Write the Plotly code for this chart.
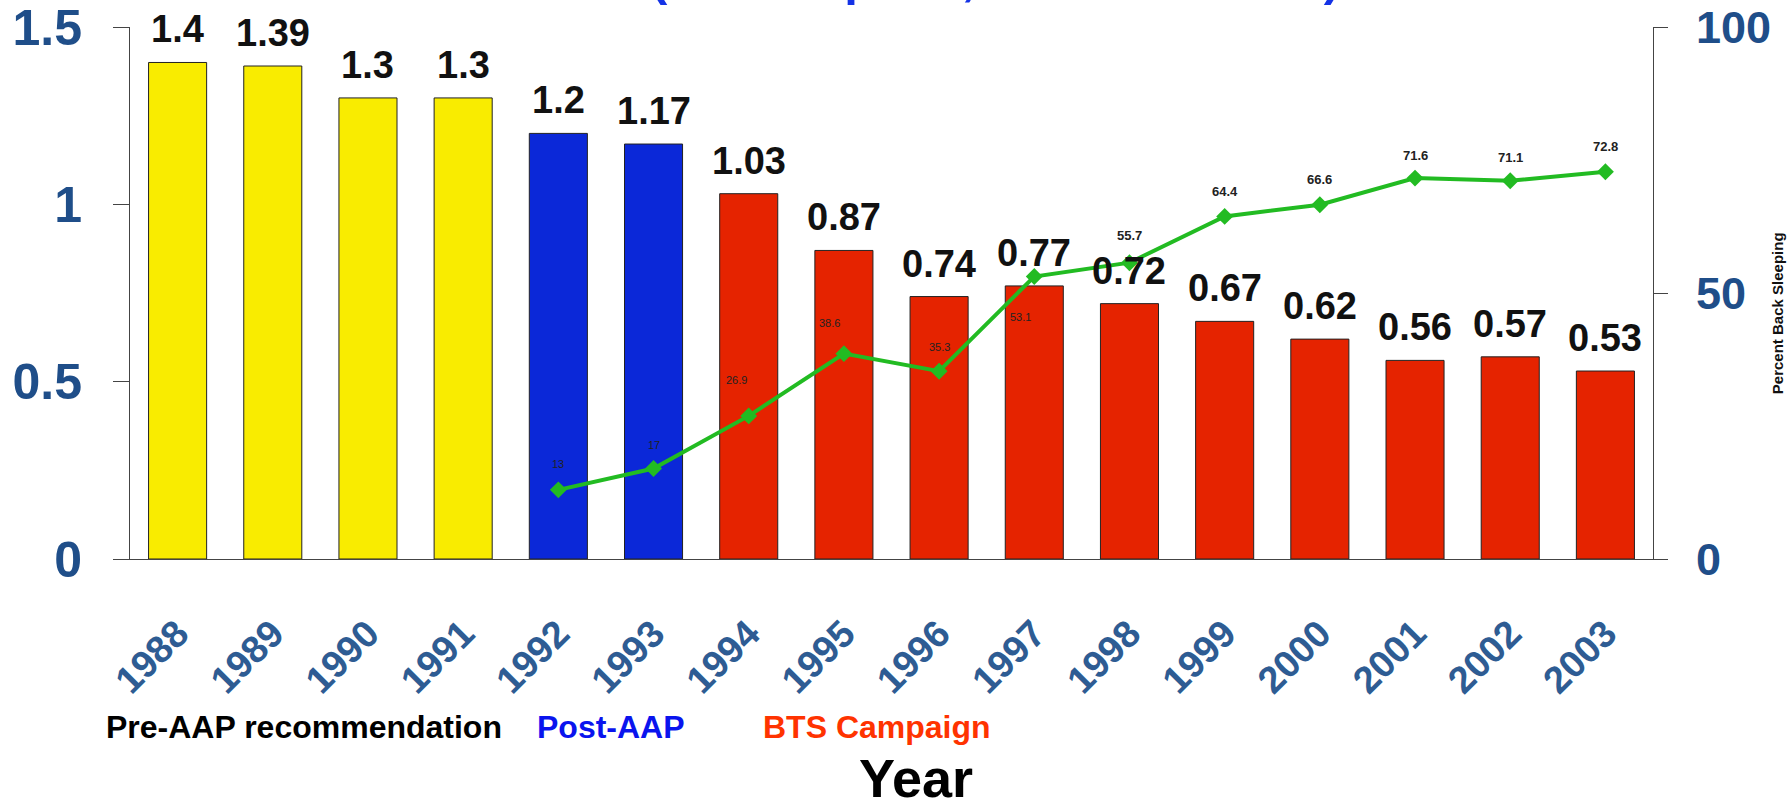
import plotly.graph_objects as go

# SIDS rate per 1,000 live births, by year
years = [str(y) for y in range(1988, 2004)]
sids_rate = [1.4, 1.39, 1.3, 1.3, 1.2, 1.17, 1.03, 0.87, 0.74, 0.77, 0.72, 0.67, 0.62, 0.56, 0.57, 0.53]
period = ["pre"] * 4 + ["post"] * 2 + ["bts"] * 10

# Percent of infants placed on their back to sleep
back_years = [str(y) for y in range(1992, 2004)]
back_pct = [13, 17, 26.9, 38.6, 35.3, 53.1, 55.7, 64.4, 66.6, 71.6, 71.1, 72.8]
back_labels = ["13", "17", "26.9", "38.6", "35.3", "53.1", "55.7", "64.4", "66.6", "71.6", "71.1", "72.8"]

period_colors = {"pre": "#f9ec00", "post": "#0b28d8", "bts": "#e52300"}
FONT = "Arial, 'Liberation Sans', sans-serif"
AXIS_BLUE = "#1f4e89"
LINE = "#444444"

# numeric slot for each year on the category-like x axis
xpos = list(range(len(years)))
back_x = [years.index(y) for y in back_years]
boundaries = [i - 0.5 for i in range(len(years) + 1)]

fig = go.Figure()

fig.add_trace(go.Bar(
    x=xpos, y=sids_rate,
    marker=dict(color=[period_colors[p] for p in period], line=dict(color="#222222", width=1)),
    width=0.61, showlegend=False,
    customdata=years, hovertemplate="%{customdata}: %{y}<extra></extra>",
))

fig.add_trace(go.Scatter(
    x=back_x, y=back_pct, yaxis="y2", mode="lines+markers",
    line=dict(color="#22bb22", width=4),
    marker=dict(symbol="diamond", size=13, color="#22bb22"),
    showlegend=False,
))

annotations = []
# value labels above the bars
for x, v in zip(xpos, sids_rate):
    annotations.append(dict(
        x=x, y=v, xref="x", yref="y", text=f"{v:g}", showarrow=False,
        yanchor="bottom", yshift=10,
        font=dict(family=FONT, size=38, color="#111111", weight="bold"),
    ))

# labels on the back-sleeping line
label_shift = [(0, 26), (0, 24), (-12, 36), (-14, 31), (0, 24), (-14, -40),
               (0, 27), (0, 25), (0, 25), (0, 23), (0, 23), (0, 25)]
for i, (x, v, t) in enumerate(zip(back_x, back_pct, back_labels)):
    dx, dy = label_shift[i]
    small = i < 6
    annotations.append(dict(
        x=x, y=v, xref="x", yref="y2", text=t, showarrow=False,
        xshift=dx, yshift=dy, yanchor="middle",
        font=dict(family=FONT, size=11 if small else 13, color="#222222",
                  weight="normal" if small else "bold"),
    ))

# subtitle running off the top edge
annotations.append(dict(
    x=0.568, y=1.037, xref="paper", yref="paper", text="(Deaths per 1,000 Live Births)",
    showarrow=False, xanchor="center", yanchor="bottom",
    font=dict(family=FONT, size=49, color="#1432e6", weight="bold"),
))

# period captions under the axis
for txt, xp, col in [("Pre-AAP recommendation", -0.017, "#000000"),
                     ("Post-AAP", 0.266, "#0a14ee"),
                     ("BTS Campaign", 0.414, "#ff3300")]:
    annotations.append(dict(
        x=xp, y=-0.316, xref="paper", yref="paper", text=txt, showarrow=False,
        xanchor="left", yanchor="middle",
        font=dict(family=FONT, size=32, color=col, weight="bold"),
    ))

annotations.append(dict(
    x=0.5158, y=-0.4117, xref="paper", yref="paper", text="Year", showarrow=False,
    xanchor="center", yanchor="middle",
    font=dict(family=FONT, size=54, color="#000000", weight="bold"),
))

annotations.append(dict(
    x=1.0814, y=0.462, xref="paper", yref="paper", text="Percent Back Sleeping", showarrow=False,
    textangle=-90, xanchor="center", yanchor="middle",
    font=dict(family=FONT, size=15, color="#111111", weight="bold"),
))

common = dict(automargin=False, showgrid=False, zeroline=False)

fig.update_layout(
    width=1787, height=809,
    margin=dict(l=130, r=134, t=27, b=250, autoexpand=False),
    paper_bgcolor="white", plot_bgcolor="white",
    annotations=annotations,
    xaxis=dict(
        range=[-0.5, 15.5], tickmode="array", tickvals=xpos, ticktext=years,
        ticks="", showline=True, linecolor=LINE, linewidth=1,
        tickangle=-45, ticklabelstandoff=36, ticklabeloverflow="allow",
        tickfont=dict(family=FONT, size=38, color="#2e5c93", weight="bold"),
        **common,
    ),
    xaxis2=dict(
        overlaying="x", range=[-0.5, 15.5], anchor="y", tickmode="array",
        tickvals=boundaries, ticks="inside", ticklen=13, tickcolor=LINE,
        showticklabels=False, showline=False, **common,
    ),
    xaxis3=dict(
        overlaying="x", range=[-0.5, 15.5], anchor="y", tickmode="array",
        tickvals=boundaries, ticks="outside", ticklen=12, tickcolor=LINE,
        showticklabels=False, showline=False, **common,
    ),
    yaxis=dict(
        range=[0, 1.5], tickmode="array", tickvals=[0, 0.5, 1, 1.5], ticktext=["0", "0.5", "1", "1.5"],
        ticks="outside", ticklen=16, tickcolor=LINE, showline=True, linecolor=LINE,
        ticklabelstandoff=21, ticklabeloverflow="allow",
        tickfont=dict(family=FONT, size=50, color=AXIS_BLUE, weight="bold"),
        **common,
    ),
    yaxis3=dict(
        overlaying="y", range=[0, 1.5], anchor="x", side="left", tickmode="array",
        tickvals=[0, 0.5, 1, 1.5], ticks="inside", ticklen=16, tickcolor=LINE,
        showticklabels=False, showline=False, **common,
    ),
    yaxis2=dict(
        overlaying="y", side="right", anchor="x", range=[0, 100], tickmode="array",
        tickvals=[0, 50, 100], ticks="outside", ticklen=14, tickcolor=LINE,
        showline=True, linecolor=LINE, ticklabelstandoff=19, ticklabeloverflow="allow",
        tickfont=dict(family=FONT, size=45, color=AXIS_BLUE, weight="bold"),
        **common,
    ),
    yaxis4=dict(
        overlaying="y", side="right", anchor="x", range=[0, 100], tickmode="array",
        tickvals=[0, 50, 100], ticks="inside", ticklen=14, tickcolor=LINE,
        showticklabels=False, showline=False, **common,
    ),
)

fig.write_html("out.html")
